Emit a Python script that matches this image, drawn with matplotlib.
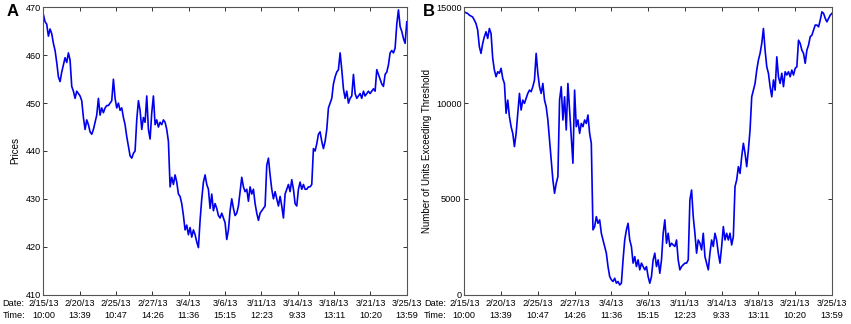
import numpy as np
import matplotlib.pyplot as plt

plt.rcParams['font.family'] = ['Liberation Sans', 'DejaVu Sans']

# tick labels (dates / times)
dates = ['2/15/13', '2/20/13', '2/25/13', '2/27/13', '3/4/13', '3/6/13',
         '3/11/13', '3/14/13', '3/18/13', '3/21/13', '3/25/13']
times = ['10:00', '13:39', '10:47', '14:26', '11:36', '15:15',
         '12:23', '9:33', '13:11', '10:20', '13:59']

# panel A - prices
price = [468.5, 467.0, 466.5, 464.0, 465.5, 464.5, 462.5, 461.0, 458.5, 455.5,
         454.5, 456.5, 458.0, 459.5, 458.5, 460.5, 459.0, 453.5, 452.5, 451.0,
         452.5, 452.0, 451.5, 450.5, 447.0, 444.5, 446.5, 445.5, 444.0, 443.5,
         444.5, 446.0, 447.5, 451.0, 447.5, 449.0, 448.0, 449.0, 449.5, 449.5,
         450.0, 450.5, 455.0, 451.0, 449.0, 450.0, 448.5, 449.0, 447.0, 445.5,
         443.0, 441.0, 439.0, 438.5, 439.5, 440.0, 446.5, 450.5, 448.5, 444.5,
         447.0, 446.0, 451.5, 444.5, 442.5, 448.0, 451.5, 445.5, 446.5, 445.0,
         446.0, 445.5, 446.5, 446.0, 444.5, 442.0, 432.5, 434.5, 433.0, 435.0,
         433.5, 431.0, 430.5, 429.0, 426.5, 423.5, 424.5, 422.5, 424.0, 422.0,
         423.5, 422.5, 421.0, 419.8, 425.5, 430.0, 433.5, 435.0, 433.0, 432.0,
         428.0, 431.0, 427.5, 429.0, 428.0, 426.5, 426.0, 427.0, 426.0, 425.0,
         421.5, 423.5, 427.5, 430.0, 428.0, 426.5, 427.0, 428.5, 431.5, 434.5,
         432.5, 431.5, 432.0, 429.5, 432.5, 431.0, 432.0, 429.0, 427.0, 425.5,
         427.0, 427.5, 428.0, 428.5, 437.0, 438.5, 435.0, 432.0, 430.0, 431.5,
         430.0, 428.5, 430.5, 428.5, 426.0, 431.0, 432.0, 433.0, 431.5, 434.0,
         432.0, 429.0, 428.5, 432.0, 433.5, 432.0, 433.0, 432.0, 432.0, 432.5,
         432.5, 433.0, 440.5, 440.0, 441.5, 443.5, 444.0, 442.0, 440.5, 442.0,
         444.5, 449.0, 450.0, 451.0, 454.0, 455.5, 456.5, 457.0, 460.5, 457.0,
         453.0, 451.0, 452.5, 450.0, 451.0, 451.5, 456.0, 452.0, 451.0, 451.5,
         452.0, 451.0, 452.5, 451.5, 452.0, 452.5, 452.0, 452.5, 453.0, 452.5,
         457.0, 456.0, 455.0, 454.0, 453.5, 456.0, 456.5, 458.0, 460.5, 461.0,
         460.5, 461.5, 466.5, 469.5, 466.0, 465.0, 463.5, 462.5, 467.0]

# panel B - number of units exceeding threshold
units = [14770, 14720, 14690, 14600, 14550, 14500, 14340, 14160, 13820, 12950,
         12600, 13120, 13470, 13730, 13380, 13900, 13640, 12340, 11730, 11380,
         11640, 11560, 11820, 11290, 11030, 9470, 10160, 9290, 8770, 8420,
         7730, 8420, 9470, 10510, 9640, 10160, 9990, 10250, 10510, 10680,
         10600, 10860, 11210, 12600, 11560, 10860, 10510, 11030, 10160, 9810,
         9120, 8070, 7030, 5990, 5290, 5810, 6160, 10160, 10860, 9120,
         10330, 8600, 11030, 9640, 8250, 6860, 10680, 8770, 9120, 8420,
         8940, 8770, 9120, 8940, 9380, 8420, 7900, 3380, 3550, 4070,
         3720, 3900, 3200, 2850, 2510, 2160, 1460, 940, 770, 680,
         850, 590, 680, 500, 590, 1810, 2850, 3380, 3720, 2850,
         2510, 1640, 1980, 1460, 1810, 1290, 1640, 1460, 1290, 1460,
         940, 590, 940, 1810, 2160, 1460, 1810, 1110, 1810, 3200,
         3900, 2680, 3200, 2510, 2680, 2590, 2510, 2850, 1810, 1290,
         1460, 1550, 1640, 1640, 1810, 4940, 5460, 4070, 3200, 2160,
         2850, 2680, 2330, 3200, 1980, 1640, 1290, 2160, 2850, 2510,
         3200, 2850, 2160, 1640, 2510, 3550, 2850, 3200, 2850, 3200,
         2590, 3030, 5640, 5990, 6680, 6330, 7200, 7900, 7380, 6680,
         7550, 8600, 10330, 10680, 11030, 11730, 12250, 12600, 13120, 13900,
         12770, 11900, 11560, 10860, 10330, 11210, 10680, 12420, 11380, 11030,
         11560, 10860, 11640, 11470, 11640, 11380, 11730, 11470, 11820, 11900,
         13290, 13120, 12770, 12600, 12080, 12770, 13030, 13470, 13550, 13820,
         14080, 14080, 13990, 14340, 14770, 14690, 14430, 14250, 14430, 14600,
         14690]

fig = plt.figure(figsize=(8.51, 3.24), dpi=100)
axA = fig.add_axes([0.051, 0.091, 0.427, 0.886])
axB = fig.add_axes([0.5456, 0.091, 0.432, 0.886])

ticklabels = [d + '\n' + t for d, t in zip(dates, times)]

#both panels get the same matlab-like styling
for ax, y, dx in [(axA, price, -0.112), (axB, units, -0.11)]:
    x = np.linspace(0, 10, len(y))
    ax.plot(x, y, color='#0000ee', linewidth=1.2)
    ax.set_xlim(0, 10)
    ax.set_xticks(range(11))
    ax.set_xticklabels(ticklabels, fontsize=6.6, linespacing=1.45)
    ax.tick_params(direction='in', top=True, right=True, length=3,
                   width=0.7, colors='#333333', labelcolor='black', pad=3)
    ax.tick_params(axis='y', labelsize=6.6, pad=2)
    for s in ax.spines.values():
        s.set_color('#555555')
        s.set_linewidth(0.8)
    # "Date:" / "Time:" row headers left of the first tick label
    ax.text(dx, -0.0145, 'Date:\nTime:', transform=ax.transAxes,
            ha='left', va='top', fontsize=6.6, linespacing=1.45)

axA.set_ylim(410, 470)
axA.set_yticks(range(410, 471, 10))
axA.set_ylabel('Prices', fontsize=7, labelpad=4)

axB.set_ylim(0, 15000)
axB.set_yticks([0, 5000, 10000, 15000])
axB.set_ylabel('Number of Units Exceeding Threshold', fontsize=7, labelpad=3)

fig.text(0.008, 0.965, 'A', fontsize=12, fontweight='bold', va='center')
fig.text(0.497, 0.965, 'B', fontsize=12, fontweight='bold', va='center')

fig.savefig('out.png', dpi=100)
